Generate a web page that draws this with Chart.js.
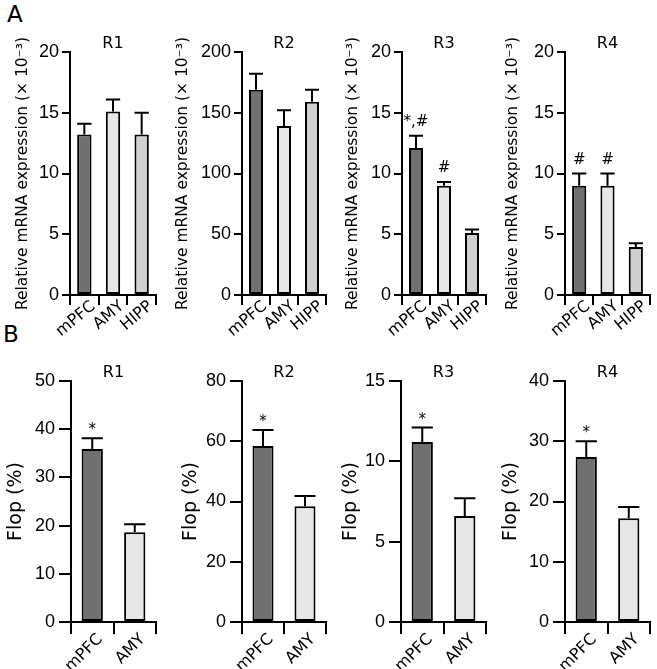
<!DOCTYPE html>
<html><head><meta charset="utf-8">
<script src="https://cdn.jsdelivr.net/npm/chart.js@4.4.0/dist/chart.umd.min.js"></script>
<style>
html,body{margin:0;padding:0;background:#fff;width:657px;height:669px;overflow:hidden;position:relative;}
canvas.panel{position:absolute;}
.lbl{position:absolute;font-family:'DejaVu Sans';font-size:23px;color:#000;line-height:23px;}
</style></head><body>
<div class="lbl" style="left:7px;top:3px">A</div>
<div class="lbl" style="left:3px;top:323px">B</div>
<script>
// ---- data ----
const regionTitles = ['R1', 'R2', 'R3', 'R4'];
const exprAreas = ['mPFC', 'AMY', 'HIPP'];
const flopAreas = ['mPFC', 'AMY'];

const exprR1 = [13.2, 15.1, 13.2];
const exprR2 = [169, 139, 159];
const exprR3 = [12.1, 9.0, 5.1];
const exprR4 = [9.0, 9.0, 3.95];
const exprErrR1 = [0.9, 1.0, 1.8];
const exprErrR2 = [13, 13, 10];
const exprErrR3 = [1.0, 0.3, 0.3];
const exprErrR4 = [1.0, 1.0, 0.3];
const exprSigR1 = ['', '', ''];
const exprSigR2 = ['', '', ''];
const exprSigR3 = ['*,#', '#', ''];
const exprSigR4 = ['#', '#', ''];
const exprYMax = [20, 200, 20, 20];
const exprYStep = [5, 50, 5, 5];

const flopR1 = [35.9, 18.6];
const flopR2 = [58.4, 38.4];
const flopR3 = [11.2, 6.6];
const flopR4 = [27.4, 17.2];
const flopErrR1 = [2.2, 1.7];
const flopErrR2 = [5.3, 3.4];
const flopErrR3 = [0.9, 1.1];
const flopErrR4 = [2.6, 1.9];
const flopSig = ['*', ''];
const flopYMax = [50, 80, 15, 40];
const flopYStep = [10, 20, 5, 10];

const exprTitle = 'Relative mRNA expression (× 10⁻³)';
const flopTitle = 'Flop (%)';

// ---- styles ----
const FONT = "'DejaVu Sans'";
const TICKFONT = "'Liberation Sans'";
const areaColors = ['#707070', '#e7e7e7', '#cfcfcf'];

const errorBarPlugin = {
  id: 'errorBars',
  afterDatasetsDraw(chart, args, opts) {
    const ctx = chart.ctx, y = chart.scales.y;
    const meta = chart.getDatasetMeta(0);
    const vals = chart.data.datasets[0].data;
    ctx.save();
    ctx.strokeStyle = '#000';
    ctx.lineWidth = 2;
    ctx.fillStyle = '#000';
    meta.data.forEach((bar, i) => {
      const v = vals[i], e = opts.errors[i];
      const x = bar.x;
      const yb = y.getPixelForValue(v);
      const yt = y.getPixelForValue(v + e);
      const hw = bar.width / 2;
      ctx.beginPath();
      ctx.moveTo(x, yb); ctx.lineTo(x, yt);
      ctx.moveTo(x - hw, yt); ctx.lineTo(x + hw, yt);
      ctx.stroke();
      const s = opts.sigs[i];
      if (s) {
        ctx.font = opts.sigSize + 'px ' + FONT;
        ctx.textAlign = 'center';
        ctx.textBaseline = 'alphabetic';
        const gap = s.indexOf('#') >= 0 ? 10 : 4;
        ctx.fillText(s, x, yt - gap);
      }
    });
    ctx.restore();
  }
};

function makePanel(g) {
  const ttlSize = g.titleSize;
  const cl = Math.round(g.titleCenterX - 4 - ttlSize / 2);
  const cw = g.right + 8 - cl;
  const ch = g.canvasBottom - g.canvasTop;
  const cv = document.createElement('canvas');
  cv.className = 'panel';
  cv.width = cw; cv.height = ch;
  cv.style.left = cl + 'px'; cv.style.top = g.canvasTop + 'px';
  cv.style.width = cw + 'px'; cv.style.height = ch + 'px';
  document.body.appendChild(cv);
  new Chart(cv, {
    type: 'bar',
    data: {
      labels: g.labels,
      datasets: [{
        data: g.values,
        backgroundColor: areaColors.slice(0, g.labels.length),
        borderColor: '#000',
        borderWidth: 2,
        borderSkipped: false,
        categoryPercentage: 1,
        barPercentage: 0.5
      }]
    },
    options: {
      responsive: false,
      animation: false,
      layout: { padding: { left: 0, right: 8, top: g.areaTop - g.canvasTop - 16, bottom: 0 } },
      plugins: {
        legend: { display: false },
        tooltip: { enabled: false },
        title: {
          display: true, text: g.title, fullSize: false, color: '#000',
          font: { family: FONT, size: 16, weight: 'normal', lineHeight: 1 },
          padding: { top: 0, bottom: 0 }
        },
        errorBars: { errors: g.errors, sigs: g.sigs, sigSize: 15 }
      },
      scales: {
        x: {
          offset: true,
          border: { display: true, color: '#000', width: 2 },
          grid: { offset: true, drawOnChartArea: false, drawTicks: true, tickLength: g.xTick, tickWidth: 2, tickColor: '#000', color: '#000', lineWidth: 2 },
          ticks: { color: '#000', font: { family: FONT, size: g.xFont }, minRotation: g.rot, maxRotation: g.rot, padding: g.xPad, autoSkip: false, labelOffset: g.labelOffset },
          afterFit: s => { s.height = g.canvasBottom - g.areaBottom; }
        },
        y: {
          min: 0, max: g.yMax,
          border: { display: true, color: '#000', width: 2 },
          grid: { drawOnChartArea: false, drawTicks: true, tickLength: g.yTick, tickWidth: 2, tickColor: '#000', color: '#000', lineWidth: 2 },
          ticks: { stepSize: g.yStep, color: '#000', font: { family: TICKFONT, size: 18 }, padding: g.yPad },
          title: { display: true, text: g.yTitle, color: '#000', font: { family: FONT, size: ttlSize, lineHeight: 1 }, padding: { top: 4, bottom: 0 } },
          afterFit: s => { s.width = g.axisX - cl; }
        }
      }
    },
    plugins: [errorBarPlugin]
  });
}

const exprValues = [exprR1, exprR2, exprR3, exprR4];
const exprErrors = [exprErrR1, exprErrR2, exprErrR3, exprErrR4];
const exprSigs = [exprSigR1, exprSigR2, exprSigR3, exprSigR4];
const flopValues = [flopR1, flopR2, flopR3, flopR4];
const flopErrors = [flopErrR1, flopErrR2, flopErrR3, flopErrR4];

const exprAxisX = [70, 242, 402, 565];
const exprRight = [156, 326, 486, 650];
const exprTitleX = [22.5, 182.5, 352.5, 512.5];
const flopAxisX = [71, 242, 401, 565];
const flopRight = [156, 326, 486, 650];
const flopTitleX = [16, 191, 351, 511];

for (let i = 0; i < 4; i++) {
  makePanel({
    labels: exprAreas, values: exprValues[i], errors: exprErrors[i], sigs: exprSigs[i],
    title: regionTitles[i], yTitle: exprTitle, titleSize: 15.5,
    yMax: exprYMax[i], yStep: exprYStep[i],
    axisX: exprAxisX[i], right: exprRight[i], titleCenterX: exprTitleX[i],
    areaTop: 52, areaBottom: 295, canvasTop: 0, canvasBottom: 345,
    xTick: 10, yTick: 8, yPad: 3, xFont: 16, rot: 40, labelOffset: 9, xPad: -8
  });
  makePanel({
    labels: flopAreas, values: flopValues[i], errors: flopErrors[i], sigs: flopSig,
    title: regionTitles[i], yTitle: flopTitle, titleSize: 19,
    yMax: flopYMax[i], yStep: flopYStep[i],
    axisX: flopAxisX[i], right: flopRight[i], titleCenterX: flopTitleX[i],
    areaTop: 381, areaBottom: 622, canvasTop: 330, canvasBottom: 669,
    xTick: 12, yTick: 12, yPad: 4, xFont: 16, rot: 45, labelOffset: 8, xPad: -4
  });
}
</script>
</body></html>
